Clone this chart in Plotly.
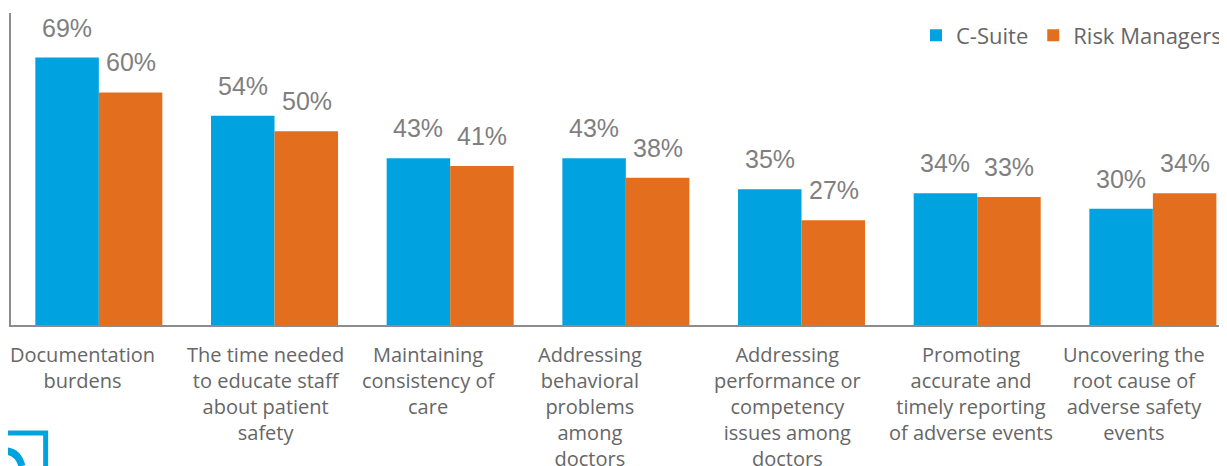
import plotly.graph_objects as go

categories = [
    "Documentation<br>burdens",
    "The time needed<br>to educate staff<br>about patient<br>safety",
    "Maintaining<br>consistency of<br>care",
    "Addressing<br>behavioral<br>problems<br>among<br>doctors",
    "Addressing<br>performance or<br>competency<br>issues among<br>doctors",
    "Promoting<br>accurate and<br>timely reporting<br>of adverse events",
    "Uncovering the<br>root cause of<br>adverse safety<br>events",
]
c_suite = [69, 54, 43, 43, 35, 34, 30]
risk_managers = [60, 50, 41, 38, 27, 33, 34]
series_names = ["C-Suite", "Risk Managers"]

# style: horizontal nudges (px) of category label boxes as placed in the original
LABEL_XSHIFT = [-16, -9, -22, -36, -14, -6, -19]

BLUE = "#00A3E0"
ORANGE = "#E36F1E"
AXIS = "#8C8C8C"
LBL_FONT = "Open Sans"

fig = go.Figure()
fig.add_bar(x=categories, y=c_suite, name=series_names[0], marker_color=BLUE,
            marker_line_width=0)
fig.add_bar(x=categories, y=risk_managers, name=series_names[1], marker_color=ORANGE,
            marker_line_width=0)

# value labels
for vals, shift in ((c_suite, -32), (risk_managers, 32)):
    for cat, v in zip(categories, vals):
        fig.add_annotation(x=cat, y=v, xref="x", yref="y", text=f"{v}%",
                           showarrow=False, xshift=shift, yshift=14,
                           yanchor="bottom",
                           font=dict(family="Liberation Sans, Arial", size=25, color="#7F7F7F"))

# category labels
for cat, dx in zip(categories, LABEL_XSHIFT):
    fig.add_annotation(x=cat, y=0, xref="x", yref="y", text=cat,
                       showarrow=False, xshift=dx, yshift=-14,
                       yanchor="top", align="center",
                       font=dict(family=LBL_FONT, size=20, color="#666666"))

# partial logo at bottom-left
fig.add_shape(type="rect", xref="paper", yref="paper",
              x0=-0.05, x1=0.0285, y0=-0.6, y1=-0.3465,
              line=dict(color=BLUE, width=5), fillcolor="rgba(0,0,0,0)")
fig.add_shape(type="path", xref="paper", yref="paper",
              path="M -0.01,-0.405 Q 0.005,-0.395 0.009,-0.452",
              line=dict(color=BLUE, width=7))

fig.update_layout(
    width=1219, height=458,
    margin=dict(l=3, r=0, t=5, b=141, autoexpand=False),
    paper_bgcolor="white", plot_bgcolor="white",
    barmode="group", bargap=0.277, bargroupgap=0,
    showlegend=True,
    legend=dict(orientation="h", x=1.0, xanchor="right", y=0.995, yanchor="top",
                font=dict(family=LBL_FONT, size=22, color="#666666"),
                itemwidth=30, tracegroupgap=0, bgcolor="rgba(0,0,0,0)"),
    xaxis=dict(range=[-0.5, 6.422], showline=True, linecolor=AXIS, linewidth=2,
               ticks="", showgrid=False, zeroline=False, automargin=False,
               showticklabels=False),
    yaxis=dict(range=[0, 80.5], showline=True, linecolor=AXIS, linewidth=2,
               automargin=False,
               showticklabels=False, ticks="", showgrid=False, zeroline=False),
)

fig.write_html("out.html")
